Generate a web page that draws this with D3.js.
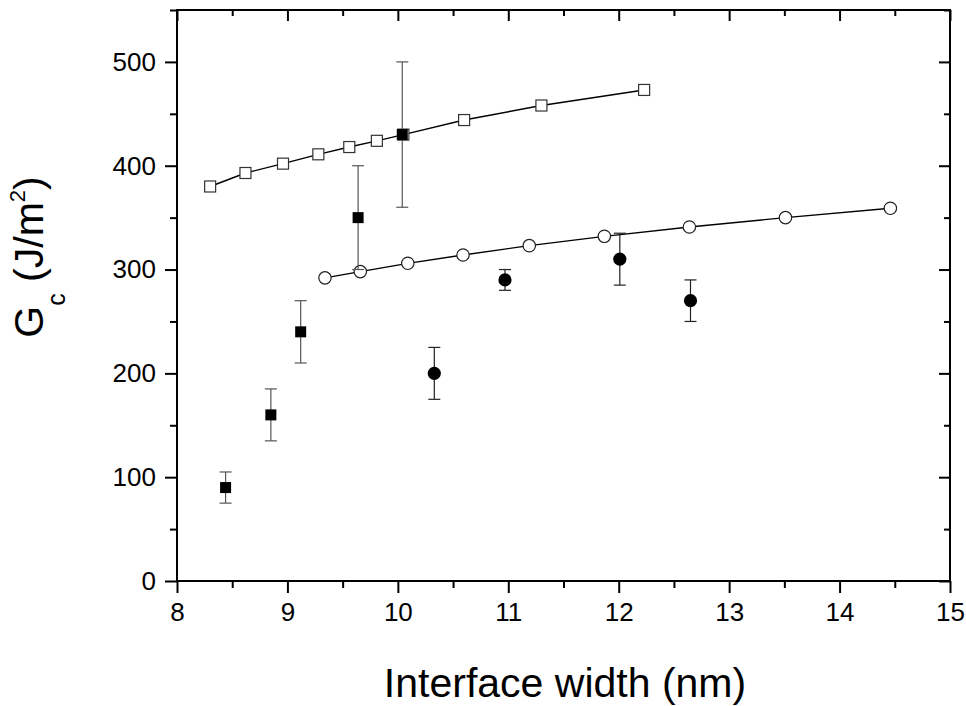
<!DOCTYPE html>
<html>
<head>
<meta charset="utf-8">
<script src="https://cdn.jsdelivr.net/npm/d3@7"></script>
<style>
  body { margin: 0; background: #fff; }
  svg { display: block; font-family: "Liberation Sans", Arial, sans-serif; }
</style>
</head>
<body>
<svg width="966" height="706"></svg>
<script>
// open squares (line)
const openSqX = [8.30, 8.62, 8.96, 9.28, 9.56, 9.81, 10.05, 10.60, 11.30, 12.23];
const openSqY = [380, 393, 402, 411, 418, 424, 430, 444, 458, 473];
// open circles (line)
const openCircX = [9.34, 9.66, 10.09, 10.59, 11.19, 11.87, 12.64, 13.51, 14.46];
const openCircY = [292, 298, 306, 314, 323, 332, 341, 350, 359];
// filled squares with error bars
const filledSqX = [8.44, 8.85, 9.12, 9.64, 10.04];
const filledSqY = [90, 160, 240, 350, 430];
const filledSqErr = [15, 25, 30, 50, 70];
// filled circles with error bars
const filledCircX = [10.33, 10.97, 12.01, 12.65];
const filledCircY = [200, 290, 310, 270];
const filledCircErr = [25, 10, 25, 20];

const xMajor = [8, 9, 10, 11, 12, 13, 14, 15];
const xMinor = [8.5, 9.5, 10.5, 11.5, 12.5, 13.5, 14.5];
const yMajor = [0, 100, 200, 300, 400, 500];
const yMinor = [50, 150, 250, 350, 450, 550];

function main(){
  const svg = d3.select("svg");
  const left = 177, right = 950, top = 10, bottom = 581;

  const x = d3.scaleLinear().domain([8, 15]).range([left, right]);
  const y = d3.scaleLinear().domain([0, 550]).range([bottom, top]);

  draw_axes(svg, x, y, left, right, top, bottom);

  const zip = (xs, ys) => xs.map((v, i) => [v, ys[i]]);
  const line = d3.line().x(d => x(d[0])).y(d => y(d[1]));

  // connecting lines
  svg.append("path").datum(zip(openSqX, openSqY)).attr("d", line)
    .attr("fill", "none").attr("stroke", "#000").attr("stroke-width", 1.4);
  svg.append("path").datum(zip(openCircX, openCircY)).attr("d", line)
    .attr("fill", "none").attr("stroke", "#000").attr("stroke-width", 1.4);

  const s = 11;
  svg.append("g").selectAll("rect").data(zip(openSqX, openSqY)).enter().append("rect")
    .attr("x", d => x(d[0]) - s/2).attr("y", d => y(d[1]) - s/2)
    .attr("width", s).attr("height", s)
    .attr("fill", "#fff").attr("stroke", "#333").attr("stroke-width", 1.2);

  svg.append("g").selectAll("circle").data(zip(openCircX, openCircY)).enter().append("circle")
    .attr("cx", d => x(d[0])).attr("cy", d => y(d[1])).attr("r", 6.2)
    .attr("fill", "#fff").attr("stroke", "#222").attr("stroke-width", 1.2);

  // error bars
  error_bars(svg, x, y, filledSqX, filledSqY, filledSqErr, "#555");
  error_bars(svg, x, y, filledCircX, filledCircY, filledCircErr, "#222");

  svg.append("g").selectAll("rect").data(zip(filledSqX, filledSqY)).enter().append("rect")
    .attr("x", d => x(d[0]) - s/2).attr("y", d => y(d[1]) - s/2)
    .attr("width", s).attr("height", s).attr("fill", "#000");

  svg.append("g").selectAll("circle").data(zip(filledCircX, filledCircY)).enter().append("circle")
    .attr("cx", d => x(d[0])).attr("cy", d => y(d[1])).attr("r", 6.6).attr("fill", "#000");

  // axis titles
  svg.append("text").attr("x", 565).attr("y", 697).attr("text-anchor", "middle")
    .attr("font-size", 41).text("Interface width (nm)");

  const yt = svg.append("text").attr("transform", "translate(43,257) rotate(-90)")
    .attr("text-anchor", "middle").attr("font-size", 41);
  yt.append("tspan").text("G");
  yt.append("tspan").attr("dy", 22).attr("font-size", 25).text("c");
  yt.append("tspan").attr("dy", -22).text(" (J/m");
  yt.append("tspan").attr("dy", -18).attr("font-size", 22).text("2");
  yt.append("tspan").attr("dy", 18).text(")");
};

function error_bars(svg, x, y, xs, ys, errs, color){
  const g = svg.append("g").attr("stroke", color).attr("stroke-width", 1.2);
  xs.forEach((xv, i) => {
    const cx = x(xv), y1 = y(ys[i] + errs[i]), y2 = y(ys[i] - errs[i]);
    g.append("line").attr("x1", cx).attr("x2", cx).attr("y1", y1).attr("y2", y2);
    g.append("line").attr("x1", cx - 6).attr("x2", cx + 6).attr("y1", y1).attr("y2", y1);
    g.append("line").attr("x1", cx - 6).attr("x2", cx + 6).attr("y1", y2).attr("y2", y2);
  });
};

function draw_axes(svg, x, y, left, right, top, bottom){
  const fs = 26;
  // bottom
  svg.append("g").attr("transform", `translate(0,${bottom})`)
    .call(d3.axisBottom(x).tickValues(xMajor).tickFormat(d3.format("d"))
      .tickSize(12).tickPadding(10).tickSizeOuter(0));
  svg.append("g").attr("transform", `translate(0,${bottom})`)
    .call(d3.axisBottom(x).tickValues(xMinor).tickSize(7).tickFormat("").tickSizeOuter(0));
  // top (inward)
  svg.append("g").attr("transform", `translate(0,${top})`)
    .call(d3.axisTop(x).tickValues(xMajor).tickSize(-11).tickFormat("").tickSizeOuter(0));
  svg.append("g").attr("transform", `translate(0,${top})`)
    .call(d3.axisTop(x).tickValues(xMinor).tickSize(-6).tickFormat("").tickSizeOuter(0));
  // left
  svg.append("g").attr("transform", `translate(${left},0)`)
    .call(d3.axisLeft(y).tickValues(yMajor).tickFormat(d3.format("d"))
      .tickSize(12).tickPadding(9).tickSizeOuter(0));
  svg.append("g").attr("transform", `translate(${left},0)`)
    .call(d3.axisLeft(y).tickValues(yMinor).tickSize(7).tickFormat("").tickSizeOuter(0));
  // right (inward)
  svg.append("g").attr("transform", `translate(${right},0)`)
    .call(d3.axisRight(y).tickValues(yMajor).tickSize(-11).tickFormat("").tickSizeOuter(0));
  svg.append("g").attr("transform", `translate(${right},0)`)
    .call(d3.axisRight(y).tickValues(yMinor).tickSize(-6).tickFormat("").tickSizeOuter(0));

  svg.selectAll(".domain").remove();
  svg.selectAll(".tick line").attr("stroke", "#000").attr("stroke-width", 2);
  svg.selectAll(".tick text").attr("fill", "#000").attr("font-size", fs)
    .attr("font-family", "Liberation Sans, Arial, sans-serif");

  svg.append("rect").attr("x", left).attr("y", top)
    .attr("width", right - left).attr("height", bottom - top)
    .attr("fill", "none").attr("stroke", "#000").attr("stroke-width", 2);
};

main();
</script>
</body>
</html>
